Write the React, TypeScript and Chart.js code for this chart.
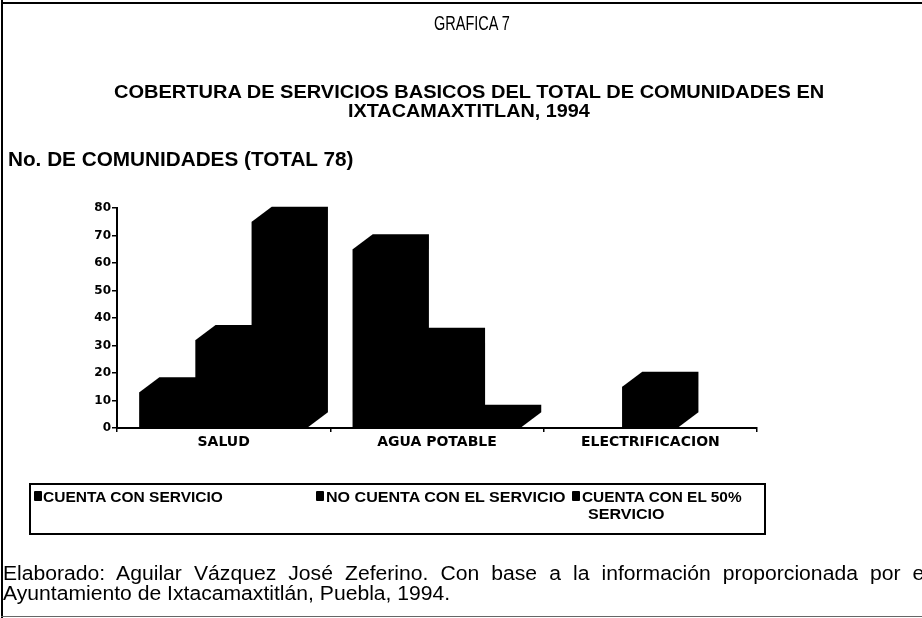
import React, { useEffect, useLayoutEffect, useRef, useState } from "react";
import { Chart, registerables } from "chart.js";

Chart.register(...registerables);

const categories = ["SALUD", "AGUA POTABLE", "ELECTRIFICACION"];
const seriesNames = ["CUENTA CON SERVICIO", "NO CUENTA CON EL SERVICIO", "CUENTA CON EL 50% SERVICIO"];
const cuentaConServicio = [13, 65, 0];
const noCuentaConServicio = [32, 31, 15];
const cuenta50 = [75, 3, 0];
const yTicks = [0, 10, 20, 30, 40, 50, 60, 70, 80];

const FONT = "'Liberation Sans', Arial, sans-serif";

const depthPlugin = {
  id: "depth3d",
  afterDatasetsDraw(chart: any) {
    const ctx = chart.ctx;
    const dx = 20;
    const dy = 15;
    ctx.save();
    ctx.fillStyle = "#000";
    chart.data.datasets.forEach((ds: any, i: number) => {
      const meta = chart.getDatasetMeta(i);
      meta.data.forEach((bar: any, j: number) => {
        const v = ds.data[j];
        if (!v) return;
        const p = bar.getProps(["x", "y", "base", "width"], true);
        const x0 = p.x - p.width / 2;
        const x1 = p.x + p.width / 2;
        ctx.beginPath();
        ctx.moveTo(x0, p.base);
        ctx.lineTo(x0, p.y);
        ctx.lineTo(x0 + dx, p.y - dy);
        ctx.lineTo(x1 + dx, p.y - dy);
        ctx.lineTo(x1 + dx, p.base - dy);
        ctx.lineTo(x1, p.base);
        ctx.closePath();
        ctx.fill();
      });
    });
    ctx.restore();
  },
};

function FitText(props: {
  text: string;
  x: number;
  cy: number;
  w: number;
  size: number;
  bold?: boolean;
}) {
  const ref = useRef<HTMLSpanElement>(null);
  const [s, setS] = useState(1);
  useLayoutEffect(() => {
    const el = ref.current;
    if (el && el.offsetWidth > 0) setS(props.w / el.offsetWidth);
  }, [props.text, props.w]);
  return (
    <span
      ref={ref}
      style={{
        position: "absolute",
        left: props.x,
        top: props.cy - 0.49 * props.size,
        fontSize: props.size,
        fontWeight: props.bold ? 700 : 400,
        fontFamily: FONT,
        lineHeight: 1,
        whiteSpace: "nowrap",
        color: "#000",
        transform: `scaleX(${s})`,
        transformOrigin: "left top",
      }}
    >
      {props.text}
    </span>
  );
}

function Footer() {
  const ref = useRef<HTMLSpanElement>(null);
  const [s, setS] = useState(1);
  const size = 20;
  const line2W = 447;
  useLayoutEffect(() => {
    const el = ref.current;
    if (el && el.offsetWidth > 0) setS(line2W / el.offsetWidth);
  }, []);
  const common: any = {
    position: "absolute",
    left: 3,
    fontSize: size,
    fontFamily: FONT,
    lineHeight: 1,
    whiteSpace: "nowrap",
    color: "#000",
    transform: `scaleX(${s})`,
    transformOrigin: "left top",
  };
  return (
    <>
      <div
        style={{
          ...common,
          top: 573 - 0.49 * size,
          width: 926 / s,
          textAlign: "justify",
          textAlignLast: "justify",
          whiteSpace: "normal",
        }}
      >
        Elaborado: Aguilar Vázquez José Zeferino. Con base a la información proporcionada por el
      </div>
      <span ref={ref} style={{ ...common, top: 593 - 0.49 * size }}>
        Ayuntamiento de Ixtacamaxtitlán, Puebla, 1994.
      </span>
    </>
  );
}

function Square(props: { x: number; cy: number }) {
  return (
    <div
      style={{
        position: "absolute",
        left: props.x,
        top: props.cy - 5,
        width: 8,
        height: 10,
        background: "#000",
        borderRadius: 1,
      }}
    />
  );
}

export default function App() {
  const canvasRef = useRef<HTMLCanvasElement>(null);

  useEffect(() => {
    const canvas = canvasRef.current;
    if (!canvas) return;
    const chart = new Chart(canvas, {
      type: "bar",
      data: {
        labels: categories,
        datasets: [
          { label: seriesNames[0], data: cuentaConServicio, backgroundColor: "#000" },
          { label: seriesNames[1], data: noCuentaConServicio, backgroundColor: "#000" },
          { label: seriesNames[2], data: cuenta50, backgroundColor: "#000" },
        ],
      },
      options: {
        responsive: false,
        animation: false,
        events: [],
        datasets: {
          bar: { categoryPercentage: 0.79, barPercentage: 1.0, borderWidth: 0 },
        },
        layout: { padding: { left: 77, right: 165, top: 208, bottom: 160 } },
        plugins: {
          legend: { display: false },
          tooltip: { enabled: false },
          title: { display: false },
        },
        scales: {
          x: {
            afterFit: (scale: any) => {
              scale.height = 30;
            },
            grid: {
              display: true,
              drawOnChartArea: false,
              offset: true,
              tickLength: 4,
              color: "#000",
              lineWidth: 1.5,
            },
            border: { display: true, color: "#000", width: 2 },
            ticks: {
              color: "#000",
              padding: 2,
              font: { family: "'DejaVu Sans', sans-serif", size: 14, weight: "bold" },
            },
          },
          y: {
            min: 0,
            max: 80,
            afterFit: (scale: any) => {
              scale.width = 40;
            },
            afterBuildTicks: (scale: any) => {
              scale.ticks = yTicks.map((v) => ({ value: v }));
            },
            grid: {
              display: true,
              drawOnChartArea: false,
              tickLength: 5,
              color: "#000",
              lineWidth: 1.5,
            },
            border: { display: true, color: "#000", width: 2 },
            ticks: {
              color: "#000",
              padding: 1,
              font: { family: "'DejaVu Sans', sans-serif", size: 12, weight: "bold" },
            },
          },
        },
      },
      plugins: [depthPlugin],
    });
    return () => chart.destroy();
  }, []);

  return (
    <div
      style={{
        position: "fixed",
        left: 0,
        top: 0,
        width: 922,
        height: 618,
        background: "#fff",
        overflow: "hidden",
      }}
    >
      {/* page frame */}
      <div style={{ position: "absolute", left: 1, top: 0, width: 2, height: 618, background: "#000" }} />
      <div style={{ position: "absolute", left: 1, top: 2, width: 921, height: 2, background: "#000" }} />
      <div style={{ position: "absolute", left: 1, top: 616, width: 921, height: 1, background: "#666" }} />

      <canvas
        ref={canvasRef}
        width={922}
        height={618}
        style={{ position: "absolute", left: 0, top: 0, width: 922, height: 618 }}
      />

      <FitText text="GRAFICA 7" x={434} cy={22} w={76} size={21} />
      <FitText
        text="COBERTURA DE SERVICIOS BASICOS DEL TOTAL DE COMUNIDADES EN"
        x={114}
        cy={91}
        w={710}
        size={19}
        bold
      />
      <FitText text="IXTACAMAXTITLAN, 1994" x={348} cy={110} w={242} size={19} bold />
      <FitText text="No. DE COMUNIDADES (TOTAL 78)" x={8} cy={159} w={345} size={20} bold />

      {/* legend */}
      <div
        style={{
          position: "absolute",
          left: 29,
          top: 483,
          width: 733,
          height: 48,
          border: "2px solid #000",
        }}
      />
      <Square x={34} cy={496} />
      <FitText text={seriesNames[0]} x={43} cy={496} w={180} size={15} bold />
      <Square x={316} cy={496} />
      <FitText text={seriesNames[1]} x={326} cy={496} w={240} size={15} bold />
      <Square x={572} cy={496} />
      <FitText text="CUENTA CON EL 50%" x={582} cy={496} w={160} size={15} bold />
      <FitText text="SERVICIO" x={588} cy={513} w={76} size={15} bold />

      <Footer />
    </div>
  );
}
